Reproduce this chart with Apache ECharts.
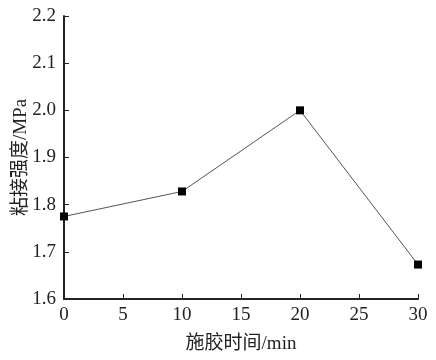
<!DOCTYPE html>
<html><head><meta charset="utf-8">
<script src="https://cdn.jsdelivr.net/npm/echarts@6/dist/echarts.min.js"></script>
<style>html,body{margin:0;padding:0;background:#fff}#c{width:436px;height:360px}</style>
</head><body><div id="c"></div>
<script>
const xValues = [0, 10, 20, 30];
const strength = [1.775, 1.828, 2.0, 1.673];
const xName = '施胶时间/min';
const yName = '粘接强度/MPa';
const serif = '"Liberation Serif","Times New Roman","Noto Sans CJK SC",serif';
const chart = echarts.init(document.getElementById('c'));
chart.setOption({
  backgroundColor: '#fff',
  animation: false,
  grid: {left: 64, right: 18, top: 16, bottom: 61, containLabel: false, outerBoundsMode: 'none'},
  xAxis: {
    type: 'value', min: 0, max: 30, interval: 5,
    name: xName, nameLocation: 'middle', nameGap: 36, nameMoveOverlap: false,
    nameTextStyle: {fontFamily: serif, fontSize: 19, color: '#222'},
    axisLine: {show: true, onZero: false, lineStyle: {color: '#222', width: 2}},
    axisTick: {show: true, inside: true, length: 5, lineStyle: {color: '#222', width: 1}},
    axisLabel: {fontFamily: serif, fontSize: 19, color: '#222', margin: 7},
    splitLine: {show: false}
  },
  yAxis: {
    type: 'value', min: 1.6, max: 2.2, interval: 0.1,
    name: yName, nameLocation: 'middle', nameGap: 33, nameMoveOverlap: false,
    nameTextStyle: {fontFamily: serif, fontSize: 19, color: '#222'},
    axisLine: {show: true, onZero: false, lineStyle: {color: '#222', width: 2}},
    axisTick: {show: true, inside: true, length: 5, lineStyle: {color: '#222', width: 1}},
    axisLabel: {fontFamily: serif, fontSize: 19, color: '#222', margin: 8,
      formatter: v => v.toFixed(1)},
    splitLine: {show: false}
  },
  series: [{
    type: 'line',
    data: xValues.map((x, i) => [x, strength[i]]),
    symbol: 'rect', symbolSize: 8,
    itemStyle: {color: '#000'},
    lineStyle: {color: '#555', width: 1}
  }]
});
</script></body></html>
